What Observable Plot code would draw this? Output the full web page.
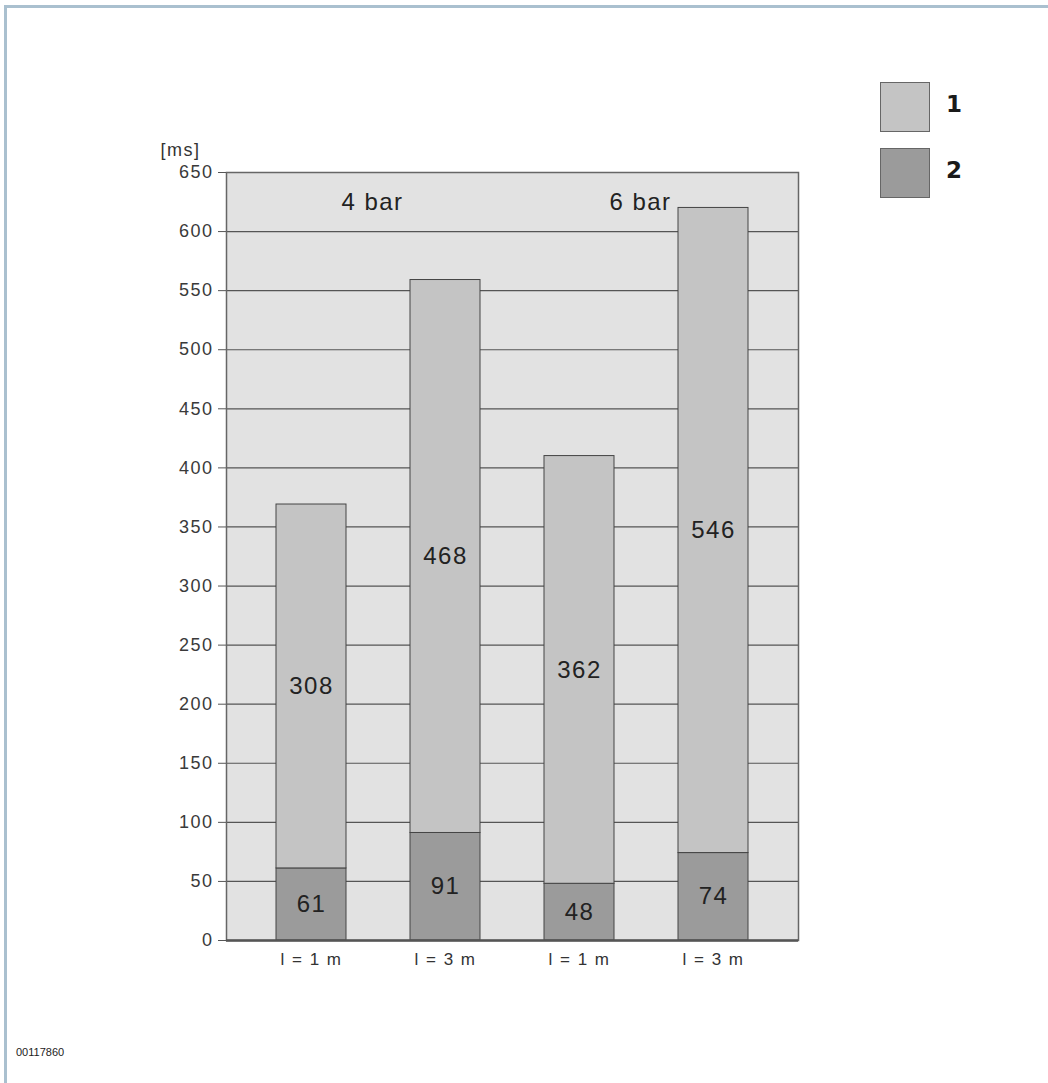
<!DOCTYPE html>
<html>
<head>
<meta charset="utf-8">
<script src="https://cdn.jsdelivr.net/npm/d3@7"></script>
<script src="https://cdn.jsdelivr.net/npm/@observablehq/plot@0.6"></script>
<style>
  html, body { margin: 0; padding: 0; background: #fff; }
  #wrap { position: relative; width: 1048px; height: 1083px; overflow: hidden; font-family: "Liberation Sans", Arial, sans-serif; }
  #border { position: absolute; left: 4px; top: 5px; width: 1100px; height: 1200px; border-left: 3px solid #aac0cf; border-top: 3px solid #aac0cf; }
  #chart { position: absolute; left: 0; top: 0; }
  #chart svg text { letter-spacing: 1.5px; }
  .lg-box { position: absolute; width: 48px; height: 48px; border: 1.5px solid #666; }
  .lg-lab { position: absolute; font-weight: bold; font-size: 23px; color: #1a1a1a; font-family: "DejaVu Sans", sans-serif; }
  #caption { position: absolute; left: 16px; top: 1046px; font-size: 11px; color: #222; }
</style>
</head>
<body>
<div id="wrap">
  <div id="border"></div>
  <div id="chart"></div>
  <div id="legend"></div>
  <div id="caption">00117860</div>
</div>
<script>
const groups = ["4 bar", "4 bar", "6 bar", "6 bar"];
const categories = ["l = 1 m", "l = 3 m", "l = 1 m", "l = 3 m"];
const series1 = [308, 468, 362, 546];
const series2 = [61, 91, 48, 74];
const seriesNames = ["1", "2"];
const seriesColors = ["#c4c4c4", "#9b9b9b"];
const yTicks = [0, 50, 100, 150, 200, 250, 300, 350, 400, 450, 500, 550, 600, 650];
const groupNames = ["4 bar", "6 bar"];

const keys = categories.map((c, i) => groups[i] + "|" + c);
const rows = [];
keys.forEach((k, i) => {
  rows.push({key: k, series: "2", value: series2[i]});
  rows.push({key: k, series: "1", value: series1[i]});
});
const groupFirst = groupNames.map(g => ({group: g, key: keys[groups.indexOf(g)]}));

const plot = Plot.plot({
  width: 1048,
  height: 1083,
  marginLeft: 226,
  marginRight: 250,
  marginTop: 172,
  marginBottom: 143,
  style: {fontFamily: "Liberation Sans, Arial, sans-serif", background: "transparent"},
  x: {domain: keys, paddingInner: 0.48, paddingOuter: 0.36, label: null},
  y: {domain: [0, 650], label: null},
  color: {domain: seriesNames, range: seriesColors},
  marks: [
    Plot.frame({fill: "#e2e2e2", stroke: "none"}),
    Plot.ruleY(yTicks, {stroke: "#555", strokeWidth: 1.2}),
    Plot.frame({stroke: "#666", strokeWidth: 1.5}),
    Plot.barY(rows, Plot.stackY({x: "key", y: "value", z: "series", fill: "series", stroke: "#444", strokeWidth: 1})),
    Plot.text(rows, Plot.stackY({x: "key", y: "value", z: "series", text: d => String(d.value), fontSize: 24, fill: "#222"})),
    Plot.ruleY([0], {stroke: "#555", strokeWidth: 2.5}),
    Plot.axisY({ticks: yTicks, tickSize: 8, tickPadding: 5, fontSize: 18, stroke: "#555", color: "#3a3a3a", label: null}),
    Plot.axisX({tickSize: 0, tickPadding: 12, fontSize: 17, color: "#333", tickFormat: d => d.split("|")[1], label: null}),
    Plot.text(groupFirst, {x: "key", text: "group", frameAnchor: "top", dy: 20, dx: 61, fontSize: 24, fill: "#222"}),
    Plot.text(["[ms]"], {frameAnchor: "top-left", dx: -66, dy: -17, lineAnchor: "bottom", textAnchor: "start", fontSize: 18, fill: "#333"})
  ]
});
document.getElementById("chart").appendChild(plot);

const legend = document.getElementById("legend");
seriesNames.forEach((s, i) => {
  const box = document.createElement("div");
  box.className = "lg-box";
  box.style.left = "880px";
  box.style.top = (82 + i * 66) + "px";
  box.style.background = seriesColors[i];
  legend.appendChild(box);
  const lab = document.createElement("div");
  lab.className = "lg-lab";
  lab.style.left = "946px";
  lab.style.top = (91 + i * 66) + "px";
  lab.textContent = s;
  legend.appendChild(lab);
});
</script>
</body>
</html>
